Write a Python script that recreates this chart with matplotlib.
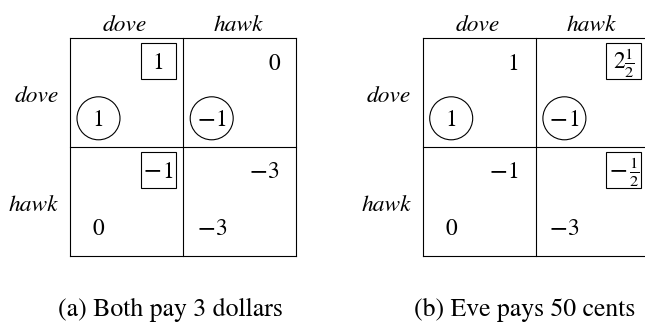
import matplotlib
matplotlib.use("Agg")
import matplotlib.pyplot as plt
from matplotlib.patches import Rectangle, Circle
from fractions import Fraction

plt.rcParams['font.family'] = ['STIXGeneral', 'DejaVu Serif']
plt.rcParams['mathtext.fontset'] = 'stix'

# ---- data ----
strategies = ['dove', 'hawk']
captions = ['(a) Both pay 3 dollars', '(b) Eve pays 50 cents']
# row player (first number, lower-left) payoffs
row_payoff_a = [[1, -1], [0, -3]]
row_payoff_b = [[1, -1], [0, -3]]
# column player (second number, upper-right) payoffs
col_payoff_a = [[1, 0], [-1, -3]]
col_payoff_b = [[1, 2.5], [-1, -0.5]]

games = [(row_payoff_a, col_payoff_a), (row_payoff_b, col_payoff_b)]

# ---- layout (pixel coordinates) ----
W, H = 645, 323
origins = [(70.0, 38.3), (422.7, 38.3)]
cw, ch = 113.2, 108.7
caption_x = [170, 525]
caption_y = 316.5
FS = 16.8
CAP_FS = 18.5
LW = 0.8


def fmt_abs(v):
    f = abs(Fraction(v).limit_denominator(8))
    whole = f.numerator // f.denominator
    rem = f - whole
    if rem == 0:
        return str(whole)
    frac = r'\frac{%d}{%d}' % (rem.numerator, rem.denominator)
    return r'$' + (str(whole) if whole else '') + frac + r'$'


fig = plt.figure(figsize=(W / 100, H / 100), dpi=100)
ax = fig.add_axes([0, 0, 1, 1])
ax.set_xlim(0, W)
ax.set_ylim(H, 0)
ax.axis('off')
renderer = fig.canvas.get_renderer()


def put_number(x, y, v, ha):
    tm = ax.text(0, y, fmt_abs(v), ha='left', va='baseline', fontsize=FS)
    parts = [tm]
    if v < 0:
        ts = ax.text(0, y, '\u2212', ha='left', va='baseline', fontsize=FS,
                     family='DejaVu Serif')
        parts = [ts, tm]
    widths = [p.get_window_extent(renderer).width for p in parts]
    total = sum(widths)
    if ha == 'right':
        start = x - total
    elif ha == 'center':
        start = x - total / 2
    else:
        start = x
    for p, w in zip(parts, widths):
        p.set_x(start)
        start += w


for g, ((rp, cp), (x0, y0)) in enumerate(zip(games, origins)):
    n = len(strategies)
    # grid lines
    for i in range(n + 1):
        ax.plot([x0, x0 + n * cw], [y0 + i * ch] * 2, color='black', lw=LW,
                solid_capstyle='projecting')
        ax.plot([x0 + i * cw] * 2, [y0, y0 + n * ch], color='black', lw=LW,
                solid_capstyle='projecting')
    # labels
    for j, s in enumerate(strategies):
        ax.text(x0 + (j + 0.5) * cw - 1.5, y0 - 7.5, s, ha='center', va='baseline',
                fontsize=FS, style='italic')
        ax.text(x0 - 11.5, y0 + (j + 0.5) * ch + 9.5, s, ha='right', va='baseline',
                fontsize=FS, style='italic')
    # best responses
    row_best = [[rp[i][j] == max(rp[k][j] for k in range(n)) for j in range(n)] for i in range(n)]
    col_best = [[cp[i][j] == max(cp[i][k] for k in range(n)) for j in range(n)] for i in range(n)]
    for i in range(n):
        for j in range(n):
            cl = x0 + j * cw
            ct = y0 + i * ch
            # row player payoff (lower-left)
            lx, ly = cl + 28.5, ct + 80
            put_number(lx, ct + 88.2, rp[i][j], 'center')
            if row_best[i][j]:
                ax.add_patch(Circle((lx, ly), 21.5, fill=False, ec='black', lw=LW))
            # column player payoff (upper-right)
            if col_best[i][j]:
                bx, by, bw, bh = cl + 70.5, ct + 5, 35, 35.5
                ax.add_patch(Rectangle((bx, by), bw, bh, fill=False, ec='black', lw=LW))
                put_number(bx + bw / 2, ct + 30.5, cp[i][j], 'center')
            else:
                put_number(cl + cw - 16.5, ct + 31.5, cp[i][j], 'right')
    ax.text(caption_x[g], caption_y, captions[g], ha='center', va='baseline',
            fontsize=CAP_FS)

fig.savefig('out.png', dpi=100)
